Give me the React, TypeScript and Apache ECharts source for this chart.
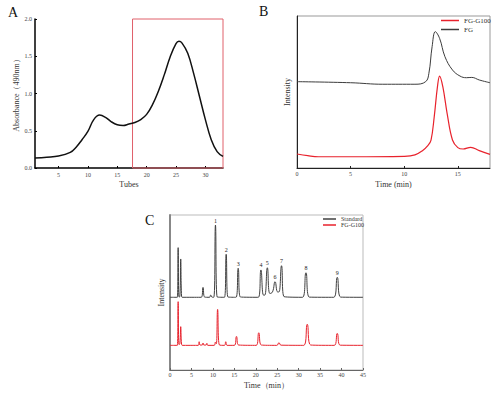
import React, { useEffect, useRef } from "react";
import * as echarts from "echarts";

// ---- Panel A: gel filtration elution profile ----
const tubeX = [1, 3, 5, 7, 8, 9, 10, 11, 12, 13, 14, 15, 16, 17, 18, 19, 20, 21, 22, 23, 24, 25, 25.5, 26, 27, 28, 29, 30, 31, 32, 33];
const absorbance = [0.134, 0.145, 0.16, 0.21, 0.28, 0.38, 0.49, 0.65, 0.71, 0.68, 0.62, 0.58, 0.57, 0.59, 0.61, 0.65, 0.72, 0.85, 1.03, 1.25, 1.49, 1.67, 1.7, 1.68, 1.54, 1.27, 0.96, 0.65, 0.38, 0.22, 0.155];
const tubeTicks = [5, 10, 15, 20, 25, 30];
const selectedTubes = [17.6, 33];

// ---- Panel B: HPGPC ----
const fgTime = [0, 5, 8, 11, 12, 12.3, 12.6, 12.9, 13.3, 13.8, 14.5, 15.2, 15.8, 16.3, 17, 18];
const fgIntensity = [56.8, 56.1, 55.1, 55.1, 56.8, 62.3, 79.8, 89.7, 85.3, 73.2, 64.5, 60.5, 59.4, 59.6, 57.9, 56.1];
const g100Time = [0, 1, 2, 5, 10, 11, 11.7, 12.2, 12.5, 12.8, 13.1, 13.3, 13.6, 14, 14.5, 15, 15.5, 16.2, 17, 18];
const g100Intensity = [9.2, 8.1, 7.4, 7.4, 7.7, 8.6, 11.4, 14.7, 18.4, 33.8, 53.5, 60.5, 53.5, 36.0, 18.4, 13.4, 12.5, 13.6, 11.4, 9.0];

// ---- Panel C: monosaccharide composition ----
const stdTime = [0, 1.7, 1.9, 2.1, 2.3, 2.5, 2.7, 3.0, 7.3, 7.7, 8.1, 9.2, 9.5, 9.8, 10.2, 10.6, 11.0, 12.7, 13.1, 13.5, 15.4, 15.9, 16.4, 20.6, 21.2, 21.8, 22.1, 22.7, 23.3, 23.9, 24.5, 25.1, 25.4, 26.0, 26.6, 30.9, 31.7, 32.5, 38.2, 39.0, 39.8, 45];
const stdSignal = [47.6, 47.6, 79.2, 47.8, 48, 72.0, 48, 47.6, 47.6, 53.9, 47.7, 47.6, 49.0, 47.7, 47.6, 93.6, 47.8, 47.6, 75.0, 47.8, 47.6, 66.1, 47.8, 47.6, 65.0, 49, 49, 66.4, 50, 51, 57.5, 51, 51, 67.7, 48, 47.6, 63.2, 47.7, 47.6, 60.3, 47.7, 47.6];
const sampleTime = [0, 1.7, 1.9, 2.1, 2.3, 2.5, 2.7, 3.0, 6.6, 6.8, 7.0, 7.5, 7.7, 7.9, 8.4, 8.6, 8.8, 10.3, 10.6, 10.8, 11.1, 11.5, 12.7, 13.0, 13.3, 15.0, 15.5, 16.0, 20.1, 20.7, 21.3, 24.9, 25.4, 25.9, 31.2, 32.0, 32.8, 38.3, 39.0, 39.7, 45];
const sampleSignal = [17, 17, 44.8, 17.5, 18, 28.9, 17.5, 17, 17, 19.3, 17.2, 17.2, 18.5, 17.2, 17.2, 18.3, 17, 17, 19.1, 18, 39.9, 17.3, 17, 19.3, 17, 17, 22.7, 17.2, 17, 25.0, 17.2, 17, 18.7, 17.1, 17, 30.4, 17.2, 17, 24.6, 17.1, 17];
const peakLabels = ["1", "2", "3", "4", "5", "6", "7", "8", "9"];
const peakTimes = [10.6, 13.1, 15.9, 21.2, 22.7, 24.5, 26.0, 31.7, 39.0];

const zip = (xs: number[], ys: number[]) => xs.map((x, i) => [x, ys[i]]);

export default function App() {
  const ref = useRef<HTMLDivElement>(null);
  useEffect(() => {
    const chart = echarts.init(ref.current!, null, { renderer: "svg" });
    const font = "Liberation Serif";
    const red = "#e8222c";
    const noSplit = { show: false };
    const tickLbl = { fontSize: 6, color: "#444", fontFamily: font };
    const titleStyle = { fontSize: 8, color: "#333", fontFamily: font };
    const peakLabelStyle = { show: true, position: "top", distance: 1, fontSize: 6, color: "#222", fontFamily: font };

    const option: any = {
      animation: false,
      backgroundColor: "#fff",
      textStyle: { fontFamily: font },
      grid: [
        { left: 35, top: 19, width: 188, height: 149 },
        { left: 297, top: 16, width: 193, height: 152, show: true, borderColor: "#999", borderWidth: 1, backgroundColor: "transparent" },
        { left: 170, top: 215, width: 193, height: 155, show: true, borderColor: "#bbb", borderWidth: 1, backgroundColor: "transparent" },
      ],
      xAxis: [
        {
          gridIndex: 0, type: "value", min: 1, max: 33,
          name: "Tubes", nameLocation: "middle", nameGap: 12, nameTextStyle: titleStyle,
          axisLine: { lineStyle: { color: "#000", width: 1.5 } },
          axisTick: { customValues: tubeTicks, length: 2, inside: true, lineStyle: { color: "#000" } },
          axisLabel: { customValues: tubeTicks, margin: 4, ...tickLbl },
          splitLine: noSplit,
        },
        {
          gridIndex: 1, type: "value", min: 0, max: 18, interval: 5,
          name: "Time (min)", nameLocation: "middle", nameGap: 12, nameTextStyle: titleStyle,
          axisLine: { lineStyle: { color: "#222", width: 1 } },
          axisTick: { length: 2, inside: true, lineStyle: { color: "#222" } },
          axisLabel: { margin: 3, ...tickLbl, showMaxLabel: false },
          splitLine: noSplit,
        },
        {
          gridIndex: 2, type: "value", min: 0, max: 45, interval: 5,
          name: "Time（min）", nameLocation: "middle", nameGap: 11, nameTextStyle: titleStyle,
          axisLine: { lineStyle: { color: "#666", width: 1 } },
          axisTick: { length: 2, inside: true, lineStyle: { color: "#666" } },
          axisLabel: { margin: 2, ...tickLbl },
          splitLine: noSplit,
        },
      ],
      yAxis: [
        {
          gridIndex: 0, type: "value", min: 0, max: 2, interval: 0.5,
          name: "Absorbance（490nm）", nameLocation: "middle", nameGap: 12, nameTextStyle: titleStyle,
          axisLine: { show: true, lineStyle: { color: "#000", width: 1.5 } },
          axisTick: { show: true, length: 2, inside: true, lineStyle: { color: "#000" } },
          axisLabel: { margin: 3, formatter: (v: number) => v.toFixed(1), ...tickLbl },
          splitLine: noSplit,
        },
        {
          gridIndex: 1, type: "value", min: 0, max: 100,
          name: "Intensity", nameLocation: "middle", nameGap: 6, nameTextStyle: titleStyle,
          axisLine: { show: true, lineStyle: { color: "#222", width: 1 } },
          axisTick: { show: false }, axisLabel: { show: false }, splitLine: noSplit,
        },
        {
          gridIndex: 2, type: "value", min: 1.3, max: 100,
          name: "Intensity", nameLocation: "middle", nameGap: 5, nameTextStyle: titleStyle,
          axisLine: { show: true, lineStyle: { color: "#888", width: 2 } },
          axisTick: { show: false }, axisLabel: { show: false }, splitLine: noSplit,
        },
      ],
      legend: [
        {
          data: ["FG-G100", "FG"], orient: "vertical", left: 441, top: 17, padding: 0,
          itemWidth: 18, itemHeight: 1.5, icon: "rect", itemGap: 2,
          textStyle: { fontSize: 7, color: "#333", fontFamily: font },
        },
        {
          data: ["Standard", "FG-G100"], orient: "vertical", left: 323, top: 216, padding: 0,
          itemWidth: 13, itemHeight: 1.5, icon: "rect", itemGap: 0,
          textStyle: { fontSize: 6, color: "#333", fontFamily: font },
        },
      ],
      graphic: [
        { type: "text", left: 8, top: 5, style: { text: "A", fontSize: 14, fontFamily: font, fill: "#111" } },
        { type: "text", left: 259, top: 4, style: { text: "B", fontSize: 14, fontFamily: font, fill: "#111" } },
        { type: "text", left: 145, top: 213, style: { text: "C", fontSize: 14, fontFamily: font, fill: "#111" } },
      ],
      series: [
        {
          type: "line", name: "Absorbance", xAxisIndex: 0, yAxisIndex: 0,
          data: zip(tubeX, absorbance), smooth: 0.4, symbol: "none",
          lineStyle: { color: "#111", width: 1.5 }, itemStyle: { color: "#111" },
          markArea: {
            silent: true,
            itemStyle: { color: "rgba(0,0,0,0)", borderColor: "#e0606a", borderWidth: 1 },
            data: [[{ xAxis: selectedTubes[0], yAxis: 0 }, { xAxis: selectedTubes[1], yAxis: 2 }]],
          },
        },
        {
          type: "line", name: "FG", xAxisIndex: 1, yAxisIndex: 1,
          data: zip(fgTime, fgIntensity), smooth: 0.4, symbol: "none",
          lineStyle: { color: "#3c3c3c", width: 1 }, itemStyle: { color: "#3c3c3c" },
        },
        {
          type: "line", name: "FG-G100", xAxisIndex: 1, yAxisIndex: 1,
          data: zip(g100Time, g100Intensity), smooth: 0.4, symbol: "none",
          lineStyle: { color: red, width: 1.2 }, itemStyle: { color: red },
        },
        {
          type: "line", name: "Standard", xAxisIndex: 2, yAxisIndex: 2,
          data: zip(stdTime, stdSignal), smooth: 0.5, symbol: "none",
          lineStyle: { color: "#404040", width: 1 }, itemStyle: { color: "#404040" },
          markPoint: {
            silent: true, symbol: "circle", symbolSize: 1,
            itemStyle: { color: "rgba(0,0,0,0)" },
            label: peakLabelStyle,
            data: peakLabels.map((l, i) => ({
              name: l,
              value: l,
              coord: [peakTimes[i], stdSignal[stdTime.indexOf(peakTimes[i])]],
              itemStyle: { color: "rgba(0,0,0,0)" },
              label: { ...peakLabelStyle, formatter: l },
            })),
          },
        },
        {
          type: "line", name: "FG-G100", xAxisIndex: 2, yAxisIndex: 2,
          data: zip(sampleTime, sampleSignal), smooth: 0.5, symbol: "none",
          lineStyle: { color: red, width: 1 }, itemStyle: { color: red },
        },
      ],
    };
    chart.setOption(option);
    return () => chart.dispose();
  }, []);
  return <div ref={ref} style={{ position: "absolute", left: 0, top: 0, width: 500, height: 397 }} />;
}
